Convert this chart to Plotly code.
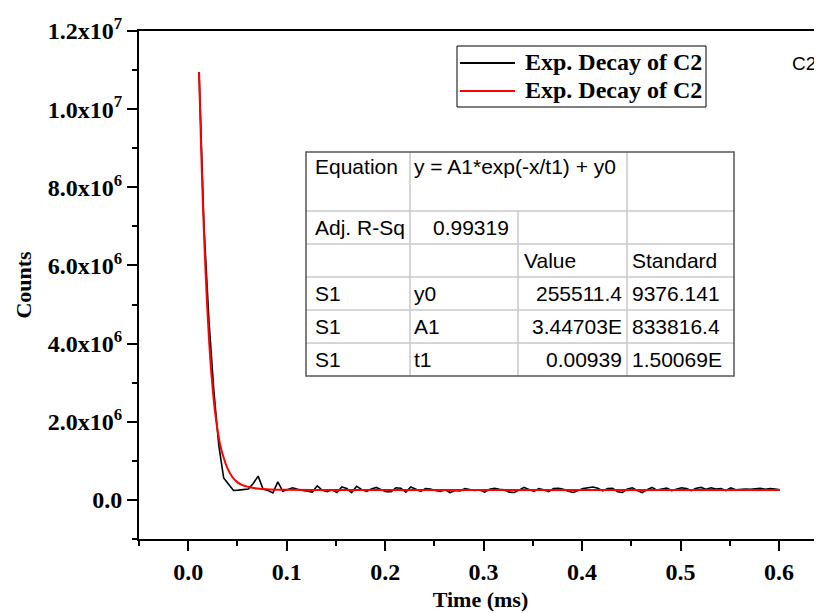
import plotly.graph_objects as go

# ---------------- data ----------------
time_exp = [0.011, 0.016, 0.021, 0.026, 0.031, 0.036, 0.041, 0.046, 0.051, 0.056,
            0.061, 0.066, 0.071, 0.076, 0.081, 0.086, 0.091, 0.096, 0.101, 0.106,
            0.111, 0.116, 0.121, 0.126, 0.131, 0.136, 0.141, 0.146, 0.151, 0.156,
            0.161, 0.166, 0.171, 0.176, 0.181, 0.186, 0.191, 0.196, 0.201, 0.206,
            0.211, 0.216, 0.221, 0.226, 0.231, 0.236, 0.241, 0.246, 0.251, 0.256,
            0.261, 0.266, 0.271, 0.276, 0.281, 0.286, 0.291, 0.296, 0.301, 0.306,
            0.311, 0.316, 0.321, 0.326, 0.331, 0.336, 0.341, 0.346, 0.351, 0.356,
            0.361, 0.366, 0.371, 0.376, 0.381, 0.386, 0.391, 0.396, 0.401, 0.406,
            0.411, 0.416, 0.421, 0.426, 0.431, 0.436, 0.441, 0.446, 0.451, 0.456,
            0.461, 0.466, 0.471, 0.476, 0.481, 0.486, 0.491, 0.496, 0.501, 0.506,
            0.511, 0.516, 0.521, 0.526, 0.531, 0.536, 0.541, 0.546, 0.551, 0.556,
            0.561, 0.566, 0.571, 0.576, 0.581, 0.586, 0.591, 0.596, 0.601]
counts_exp = [10.95e6, 7.0e6, 4.6e6, 2.8e6, 1.4e6, 0.56e6, 0.40e6, 0.24e6, 0.25e6, 0.26e6,
              0.28e6, 0.42e6, 0.61e6, 0.28e6, 0.24e6, 0.18e6, 0.46e6, 0.22e6, 0.27e6, 0.31e6,
              0.27e6, 0.24e6, 0.22e6, 0.20e6, 0.36e6, 0.25e6, 0.21e6, 0.26e6, 0.19e6, 0.33e6,
              0.29e6, 0.19e6, 0.35e6, 0.27e6, 0.22e6, 0.28e6, 0.32e6, 0.26e6, 0.21e6, 0.21e6,
              0.31e6, 0.30e6, 0.20e6, 0.33e6, 0.28e6, 0.22e6, 0.29e6, 0.28e6, 0.24e6, 0.22e6,
              0.26e6, 0.19e6, 0.24e6, 0.23e6, 0.29e6, 0.27e6, 0.24e6, 0.26e6, 0.20e6, 0.27e6,
              0.30e6, 0.27e6, 0.26e6, 0.20e6, 0.19e6, 0.25e6, 0.32e6, 0.27e6, 0.22e6, 0.29e6,
              0.26e6, 0.21e6, 0.29e6, 0.30e6, 0.27e6, 0.22e6, 0.19e6, 0.24e6, 0.29e6, 0.31e6,
              0.33e6, 0.30e6, 0.23e6, 0.29e6, 0.30e6, 0.21e6, 0.19e6, 0.28e6, 0.31e6, 0.24e6,
              0.19e6, 0.26e6, 0.32e6, 0.25e6, 0.27e6, 0.30e6, 0.24e6, 0.28e6, 0.31e6, 0.29e6,
              0.24e6, 0.30e6, 0.32e6, 0.27e6, 0.31e6, 0.28e6, 0.29e6, 0.24e6, 0.31e6, 0.26e6,
              0.27e6, 0.28e6, 0.27e6, 0.29e6, 0.30e6, 0.27e6, 0.29e6, 0.28e6, 0.26e6]

time_fit = [0.011, 0.013, 0.015, 0.017, 0.019, 0.021, 0.023, 0.025, 0.027, 0.030,
            0.033, 0.036, 0.040, 0.045, 0.050, 0.055, 0.060, 0.065, 0.070, 0.080,
            0.090, 0.100, 0.150, 0.200, 0.300, 0.400, 0.500, 0.601]
counts_fit = [10.95e6, 9.1e6, 7.5e6, 6.2e6, 5.1e6, 4.15e6, 3.4e6, 2.8e6, 2.3e6, 1.75e6,
              1.35e6, 1.08e6, 0.80e6, 0.58e6, 0.45e6, 0.38e6, 0.34e6, 0.31e6, 0.29e6, 0.27e6,
              0.262e6, 0.258e6, 0.256e6, 0.2555e6, 0.2555e6, 0.2555e6, 0.2555e6, 0.2555e6]

series_names = ["Exp. Decay of C2", "Exp. Decay of C2"]
series_colors = ["black", "red"]

x_tick_vals = [0.0, 0.1, 0.2, 0.3, 0.4, 0.5, 0.6]
x_tick_text = ["0.0", "0.1", "0.2", "0.3", "0.4", "0.5", "0.6"]
y_tick_vals = [0, 2e6, 4e6, 6e6, 8e6, 10e6, 12e6]
y_tick_text = ["0.0", "2.0x10<sup>6</sup>", "4.0x10<sup>6</sup>", "6.0x10<sup>6</sup>",
               "8.0x10<sup>6</sup>", "1.0x10<sup>7</sup>", "1.2x10<sup>7</sup>"]

table_col1 = ["Equation", "Adj. R-Sq", "", "S1", "S1", "S1"]
table_col2 = ["y = A1*exp(-x/t1) + y0", "0.99319", "", "y0", "A1", "t1"]
table_col3 = ["", "", "Value", "255511.4", "3.44703E", "0.00939"]
table_col4 = ["", "", "Standard", "9376.141", "833816.4", "1.50069E"]

# ---------------- layout geometry ----------------
# the page body has an 8px margin, so figure coordinates = screen - 8
OFF = 8
W, H = 814, 605
ML, MR, MT, MB = 131, 0, 23, 74
PW, PH = W - ML - MR, H - MT - MB


def px(x):
    """screen pixel x -> paper"""
    return (x - OFF - ML) / PW


def py(y):
    """screen pixel y -> paper"""
    return (H - MB - (y - OFF)) / PH


SERIF = "Liberation Serif"
SANS = "Liberation Sans"

fig = go.Figure()
fig.add_trace(go.Scatter(x=time_exp, y=counts_exp, mode="lines", name=series_names[0],
                         line=dict(color=series_colors[0], width=1.6), showlegend=False))
fig.add_trace(go.Scatter(x=time_fit, y=counts_fit, mode="lines", name=series_names[1],
                         line=dict(color=series_colors[1], width=2, shape="spline", smoothing=0.6),
                         showlegend=False))

shapes = []
annotations = []

# ---- fit-result table ----
col_x = [306, 410, 518, 627, 734]
row_y = [152, 211, 244, 277, 310, 343, 376]
light = "#c8c8c8"
dark = "#555555"
shapes.append(dict(type="rect", xref="paper", yref="paper", x0=px(col_x[0]), x1=px(col_x[-1]),
                   y0=py(row_y[-1]), y1=py(row_y[0]), fillcolor="white", line=dict(width=0)))
for r in row_y[1:-1]:
    shapes.append(dict(type="line", xref="paper", yref="paper", x0=px(col_x[0]), x1=px(col_x[-1]),
                       y0=py(r), y1=py(r), line=dict(color=light, width=1.5)))
shapes.append(dict(type="line", xref="paper", yref="paper", x0=px(col_x[1]), x1=px(col_x[1]),
                   y0=py(row_y[0]), y1=py(row_y[-1]), line=dict(color=light, width=1.5)))
shapes.append(dict(type="line", xref="paper", yref="paper", x0=px(col_x[2]), x1=px(col_x[2]),
                   y0=py(row_y[1]), y1=py(row_y[-1]), line=dict(color=light, width=1.5)))
shapes.append(dict(type="line", xref="paper", yref="paper", x0=px(col_x[3]), x1=px(col_x[3]),
                   y0=py(row_y[0]), y1=py(row_y[-1]), line=dict(color=light, width=1.5)))
shapes.append(dict(type="rect", xref="paper", yref="paper", x0=px(col_x[0]), x1=px(col_x[-1]),
                   y0=py(row_y[-1]), y1=py(row_y[0]), line=dict(color=dark, width=1.5)))

tfont = dict(family=SANS, size=21, color="black")
for i in range(6):
    top, bot = row_y[i], row_y[i + 1]
    yc = (top + 14) if i == 0 else (top + bot) / 2
    cells = [
        (table_col1[i], col_x[0] + 7, "left"),
        (table_col2[i], col_x[1] + 2 if i != 1 else col_x[2] - 7, "left" if i != 1 else "right"),
        (table_col3[i], col_x[2] + 4 if i == 2 else col_x[3] - 3, "left" if i == 2 else "right"),
        (table_col4[i], col_x[3] + 3, "left"),
    ]
    for text, xx, anchor in cells:
        if text:
            annotations.append(dict(text=text, xref="paper", yref="paper", x=px(xx), y=py(yc),
                                    xanchor=anchor, yanchor="middle", showarrow=False, font=tfont))

# ---- legend (drawn as a boxed key) ----
shapes.append(dict(type="rect", xref="paper", yref="paper", x0=px(457), x1=px(706),
                   y0=py(107), y1=py(46), fillcolor="white", line=dict(color="black", width=1)))
leg_y = [63, 91]
for name, color, yy in zip(series_names, series_colors, leg_y):
    shapes.append(dict(type="line", xref="paper", yref="paper", x0=px(460), x1=px(515),
                       y0=py(yy), y1=py(yy), line=dict(color=color, width=2)))
    annotations.append(dict(text=name, xref="paper", yref="paper", x=px(523), y=py(yy - 1),
                            xanchor="left", yanchor="middle", showarrow=False,
                            font=dict(family=SERIF, size=24, color="black", weight="bold")))

annotations.append(dict(text="C2", xref="paper", yref="paper", x=px(804), y=py(63),
                        xanchor="center", yanchor="middle", showarrow=False,
                        font=dict(family=SANS, size=19, color="black")))

tick_font = dict(family=SERIF, size=24, color="black", weight="bold")

fig.update_layout(
    width=W, height=H,
    margin=dict(l=ML, r=MR, t=MT, b=MB, autoexpand=False),
    paper_bgcolor="white", plot_bgcolor="white",
    showlegend=False,
    shapes=shapes,
    annotations=annotations,
    xaxis=dict(range=[-0.05, (822 - 188) / 985.0], showgrid=False, zeroline=False,
               showline=True, linecolor="black", linewidth=2, mirror=True,
               ticks="outside", ticklen=10, tickwidth=2, tickcolor="black",
               tickmode="array", tickvals=x_tick_vals, ticktext=x_tick_text,
               tickfont=tick_font,
               minor=dict(tickmode="linear", tick0=0, dtick=0.05, ticks="outside",
                          ticklen=5, tickwidth=2, tickcolor="black", showgrid=False),
               title=dict(text="Time (ms)", standoff=8,
                          font=dict(family=SERIF, size=22, color="black", weight="bold")),
               automargin=False),
    yaxis=dict(range=[-1e6, 1.2e7], showgrid=False, zeroline=False,
               showline=True, linecolor="black", linewidth=2, mirror=False,
               ticks="outside", ticklen=10, tickwidth=2, tickcolor="black",
               tickmode="array", tickvals=y_tick_vals, ticktext=y_tick_text,
               tickfont=tick_font,
               minor=dict(tickmode="linear", tick0=0, dtick=1e6, ticks="outside",
                          ticklen=5, tickwidth=2, tickcolor="black", showgrid=False),
               title=dict(text="Counts", standoff=10,
                          font=dict(family=SERIF, size=22, color="black", weight="bold")),
               automargin=False),
)

fig.write_html("out.html")
